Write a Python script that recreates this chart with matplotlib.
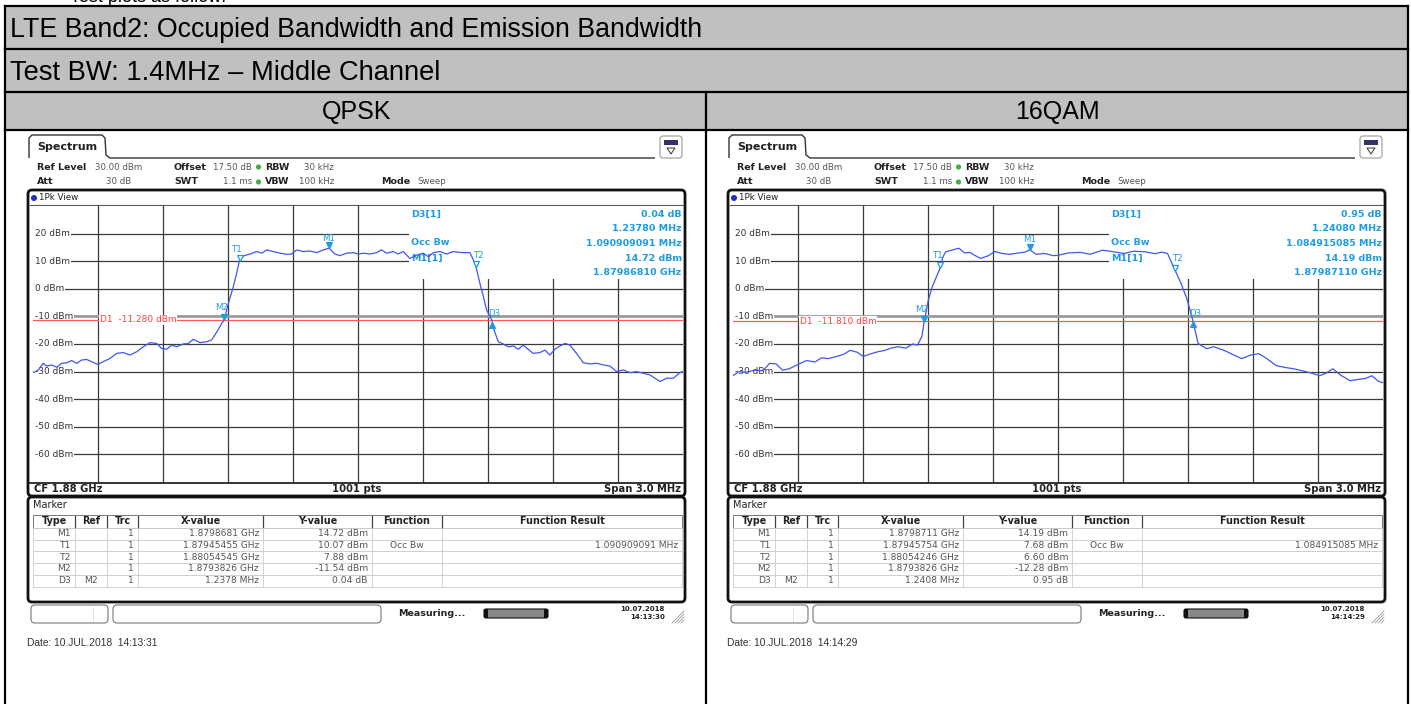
import matplotlib
matplotlib.use('Agg')
import matplotlib.pyplot as plt
from matplotlib.patches import Rectangle, FancyBboxPatch, Circle, Polygon
from matplotlib.transforms import offset_copy, blended_transform_factory

W, H = 1411, 704

# ---- data ----
doc_title = 'LTE Band2: Occupied Bandwidth and Emission Bandwidth'
doc_subtitle = 'Test BW: 1.4MHz \u2013 Middle Channel'
modulations = ['QPSK', '16QAM']

level_ticks_dbm = [20, 10, 0, -10, -20, -30, -40, -50, -60]

# frequency offset from CF 1.88 GHz (MHz), level (dBm)
qpsk_freq_mhz = [-1.500, -1.497, -1.474, -1.451, -1.436, -1.412, -1.389, -1.366, -1.343, -1.320,
                 -1.297, -1.274, -1.251, -1.228, -1.200, -1.174, -1.143, -1.112, -1.082, -1.051,
                 -1.020, -0.989, -0.959, -0.928, -0.905, -0.882, -0.859, -0.836, -0.805, -0.782,
                 -0.759, -0.728, -0.697, -0.674, -0.659, -0.643, -0.628, -0.617, -0.597, -0.574,
                 -0.559, -0.546, -0.528, -0.497, -0.466, -0.443, -0.420, -0.389, -0.358, -0.328,
                 -0.305, -0.282, -0.251, -0.220, -0.190, -0.159, -0.132, -0.105, -0.082, -0.051,
                 -0.020, 0.003, 0.026, 0.057, 0.087, 0.110, 0.134, 0.164, 0.187, 0.210,
                 0.241, 0.272, 0.303, 0.326, 0.349, 0.380, 0.410, 0.441, 0.480, 0.518,
                 0.534, 0.546, 0.564, 0.580, 0.595, 0.620, 0.629, 0.649, 0.672, 0.695,
                 0.718, 0.741, 0.764, 0.787, 0.810, 0.841, 0.864, 0.887, 0.910, 0.934,
                 0.957, 0.980, 1.010, 1.041, 1.072, 1.103, 1.134, 1.164, 1.195, 1.226,
                 1.257, 1.287, 1.318, 1.349, 1.372, 1.395, 1.426, 1.457, 1.487, 1.500]
qpsk_level_dbm = [-30.0, -30.4, -29.4, -27.0, -28.0, -27.6, -28.4, -27.0, -26.8, -26.0,
                  -27.0, -25.8, -25.6, -26.4, -27.4, -26.4, -25.2, -23.4, -23.1, -24.0,
                  -22.8, -21.0, -19.5, -19.8, -21.6, -21.9, -20.4, -21.0, -20.0, -19.8,
                  -18.3, -19.5, -19.2, -18.5, -16.7, -14.7, -12.5, -11.5, -5.3, 0.8,
                  5.6, 10.1, 11.9, 12.6, 13.5, 12.9, 14.1, 13.5, 12.9, 12.5,
                  12.6, 14.1, 13.5, 13.7, 13.1, 14.1, 14.7, 12.6, 12.0, 12.9,
                  13.1, 12.6, 12.9, 12.6, 13.1, 14.1, 12.9, 13.5, 12.6, 13.5,
                  11.0, 12.2, 12.9, 11.6, 13.1, 13.5, 12.6, 13.5, 13.1, 13.1,
                  10.4, 7.9, 2.0, -2.8, -7.7, -11.5, -14.9, -19.2, -20.0, -21.0,
                  -20.7, -21.9, -20.4, -21.9, -23.4, -23.1, -22.2, -24.0, -21.9, -20.7,
                  -19.8, -20.4, -23.4, -26.8, -27.2, -27.0, -27.6, -28.0, -30.0, -29.4,
                  -30.4, -30.0, -30.6, -31.2, -32.4, -33.6, -32.4, -32.4, -30.4, -30.0]

qam16_freq_mhz = [-1.500, -1.470, -1.440, -1.400, -1.360, -1.330, -1.300, -1.270, -1.240, -1.200,
                  -1.160, -1.120, -1.090, -1.060, -1.020, -0.990, -0.958, -0.925, -0.898, -0.860,
                  -0.830, -0.798, -0.770, -0.738, -0.700, -0.670, -0.647, -0.627, -0.617, -0.597,
                  -0.577, -0.542, -0.530, -0.517, -0.490, -0.456, -0.430, -0.406, -0.380, -0.356,
                  -0.320, -0.290, -0.256, -0.220, -0.180, -0.150, -0.129, -0.100, -0.060, -0.020,
                  0.005, 0.050, 0.105, 0.150, 0.207, 0.250, 0.306, 0.350, 0.406, 0.450,
                  0.480, 0.507, 0.542, 0.567, 0.597, 0.623, 0.648, 0.688, 0.720, 0.768,
                  0.800, 0.849, 0.890, 0.928, 0.960, 1.008, 1.050, 1.090, 1.129, 1.170,
                  1.209, 1.240, 1.270, 1.310, 1.350, 1.390, 1.420, 1.450, 1.480, 1.500]
qam16_level_dbm = [-31.5, -30.0, -30.3, -29.5, -29.7, -27.0, -27.2, -29.5, -29.0, -27.5,
                   -26.0, -26.5, -25.0, -25.3, -24.5, -23.8, -22.3, -23.0, -24.5, -23.5,
                   -22.8, -22.3, -21.5, -21.0, -21.5, -20.0, -20.4, -17.3, -12.3, -4.0,
                   1.1, 7.7, 11.5, 13.4, 14.0, 14.7, 13.0, 13.2, 12.0, 11.0,
                   12.0, 13.5, 12.8, 12.5, 13.0, 13.3, 14.2, 12.5, 12.8, 12.0,
                   12.2, 13.0, 13.2, 12.5, 14.0, 13.5, 12.8, 13.6, 13.4, 12.7,
                   13.3, 12.8, 6.6, 2.4, -3.8, -11.3, -19.8, -21.7, -21.0, -22.3,
                   -23.5, -25.3, -24.0, -23.5, -25.0, -27.8, -28.5, -29.0, -29.7, -30.5,
                   -31.5, -30.5, -29.0, -31.5, -33.3, -32.8, -32.5, -31.5, -33.5, -34.0]

marker_names = ['M1', 'T1', 'T2', 'M2', 'D3']
qpsk_marker_freq_mhz = [-0.1319, -0.5455, 0.5455, -0.6174, 0.6204]
qpsk_marker_level_dbm = [14.72, 10.07, 7.88, -11.54, -11.50]
qam16_marker_freq_mhz = [-0.1289, -0.5425, 0.5425, -0.6174, 0.6234]
qam16_marker_level_dbm = [14.19, 7.68, 6.60, -12.28, -11.33]

qpsk_display_line_dbm = -11.28
qam16_display_line_dbm = -11.81

qpsk_info = ['0.04 dB', '1.23780 MHz', '1.090909091 MHz', '14.72 dBm', '1.87986810 GHz']
qam16_info = ['0.95 dB', '1.24080 MHz', '1.084915085 MHz', '14.19 dBm', '1.87987110 GHz']

table_header = ['Type', 'Ref', 'Trc', 'X-value', 'Y-value', 'Function', 'Function Result']
qpsk_table = [['M1', '', '1', '1.8798681 GHz', '14.72 dBm', '', ''],
              ['T1', '', '1', '1.87945455 GHz', '10.07 dBm', 'Occ Bw', '1.090909091 MHz'],
              ['T2', '', '1', '1.88054545 GHz', '7.88 dBm', '', ''],
              ['M2', '', '1', '1.8793826 GHz', '-11.54 dBm', '', ''],
              ['D3', 'M2', '1', '1.2378 MHz', '0.04 dB', '', '']]
qam16_table = [['M1', '', '1', '1.8798711 GHz', '14.19 dBm', '', ''],
               ['T1', '', '1', '1.87945754 GHz', '7.68 dBm', 'Occ Bw', '1.084915085 MHz'],
               ['T2', '', '1', '1.88054246 GHz', '6.60 dBm', '', ''],
               ['M2', '', '1', '1.8793826 GHz', '-12.28 dBm', '', ''],
               ['D3', 'M2', '1', '1.2408 MHz', '0.95 dB', '', '']]

qpsk_clock = ['10.07.2018', '14:13:30']
qam16_clock = ['10.07.2018', '14:14:29']
qpsk_date = 'Date: 10.JUL.2018  14:13:31'
qam16_date = 'Date: 10.JUL.2018  14:14:29'

TRACE = '#4455ee'
MARK = '#1f9be3'
SCREEN_FONT = 'DejaVu Sans'
DOC_FONT = 'Liberation Sans'

fig = plt.figure(figsize=(W / 100, H / 100), dpi=100)
bg = fig.add_axes([0, 0, 1, 1])
bg.set_xlim(0, W)
bg.set_ylim(H, 0)
bg.axis('off')


def txt(x, y, s, size=6, weight='normal', color='#222222', ha='left', va='center', family=SCREEN_FONT, **kw):
    bg.text(x, y, s, fontsize=size, fontweight=weight, color=color, ha=ha, va=va, family=family, **kw)


def rbox(x0, y0, x1, y1, r=3, ec='#222222', lw=1.0, fc='none', z=1):
    bg.add_patch(FancyBboxPatch((x0, y0), x1 - x0, y1 - y0, boxstyle='round,pad=0,rounding_size=%g' % r,
                                ec=ec, fc=fc, lw=lw, zorder=z))


# ---- document table ----
bg.text(70, 2.5, 'Test plots as follow:', fontsize=13, family=DOC_FONT, va='baseline', color='black')
for y0, y1 in [(6, 49), (49, 92), (92, 130)]:
    bg.add_patch(Rectangle((5, y0), 1403, y1 - y0, fc='#c0c0c0', ec='none', zorder=0))
for y in [6, 49, 92, 130]:
    bg.plot([5, 1408], [y, y], color='black', lw=1.6, zorder=2)
bg.plot([5, 5], [6, H], color='black', lw=1.6, zorder=2)
bg.plot([1408, 1408], [6, H], color='black', lw=1.6, zorder=2)
bg.plot([706, 706], [92, H], color='black', lw=1.6, zorder=2)
txt(10, 30, doc_title, size=19.3, family=DOC_FONT, color='black')
txt(10, 73, doc_subtitle, size=19.6, family=DOC_FONT, color='black')
txt(357, 112, modulations[0], size=18, family=DOC_FONT, color='black', ha='center')
txt(1057, 112, modulations[1], size=18, family=DOC_FONT, color='black', ha='center')


def draw_panel(ox, freq, level, mk_f, mk_l, d1, info, rows, clock, date):
    # tab and header
    bg.add_patch(Polygon([(ox + 29, 158), (ox + 29, 138), (ox + 32, 135), (ox + 102, 135), (ox + 105, 138),
                          (ox + 106, 155), (ox + 110, 158), (ox + 655, 158)],
                         closed=False, fill=False, ec='#333333', lw=1.0))
    txt(ox + 37, 147, 'Spectrum', size=8, weight='bold')
    rbox(ox + 660, 136, ox + 682, 158, r=3, ec='#999999', lw=0.8)
    bg.add_patch(Rectangle((ox + 664, 140), 14, 5, fc='#333366', ec='none'))
    bg.add_patch(Polygon([(ox + 667, 148), (ox + 675, 148), (ox + 671, 154)], closed=True, fill=False,
                         ec='#333333', lw=0.7))
    txt(ox + 37, 167, 'Ref Level', size=6.8, weight='bold')
    txt(ox + 95, 167, '30.00 dBm', size=6.2, color='#555555')
    txt(ox + 174, 167, 'Offset', size=6.8, weight='bold')
    txt(ox + 252, 167, '17.50 dB', size=6.2, color='#555555', ha='right')
    txt(ox + 265, 167, 'RBW', size=6.8, weight='bold')
    txt(ox + 334, 167, '30 kHz', size=6.2, color='#555555', ha='right')
    txt(ox + 37, 182, 'Att', size=6.8, weight='bold')
    txt(ox + 131, 182, '30 dB', size=6.2, color='#555555', ha='right')
    txt(ox + 174, 182, 'SWT', size=6.8, weight='bold')
    txt(ox + 252, 182, '1.1 ms', size=6.2, color='#555555', ha='right')
    txt(ox + 265, 182, 'VBW', size=6.8, weight='bold')
    txt(ox + 334, 182, '100 kHz', size=6.2, color='#555555', ha='right')
    txt(ox + 381, 182, 'Mode', size=6.8, weight='bold')
    txt(ox + 417, 182, 'Sweep', size=6.2, color='#555555')
    for y in [167, 182]:
        bg.add_patch(Circle((ox + 258.5, y), 2.6, fc='#3cb043', ec='none'))

    # diagram frame
    rbox(ox + 28, 190, ox + 685, 496, r=4, lw=2.0, ec='#111111')
    bg.plot([ox + 30, ox + 683], [205, 205], color='#555555', lw=0.8)
    bg.add_patch(Circle((ox + 34, 198), 3.0, fc='#1a2fd6', ec='none'))
    txt(ox + 39, 198, '1Pk View', size=6.3)
    bg.plot([ox + 30, ox + 683], [482.5, 482.5], color='#111111', lw=1.2)
    txt(ox + 34, 489, 'CF 1.88 GHz', size=7.2, weight='bold')
    txt(ox + 357, 489, '1001 pts', size=7.2, weight='bold', ha='center')
    txt(ox + 681, 489, 'Span 3.0 MHz', size=7.2, weight='bold', ha='right')

    # spectrum axes
    ax = fig.add_axes([(ox + 32.7) / W, 1 - 482 / H, 650 / W, 276 / H])
    ax.set_xlim(-1.5, 1.5)
    ax.set_ylim(-70, 30)
    ax.set_xticks([])
    ax.set_yticks([])
    for s in ax.spines.values():
        s.set_visible(False)
    for i in range(1, 10):
        ax.axvline(-1.5 + 0.3 * i, color='#3a3a3a', lw=0.9, zorder=1)
    for lv in level_ticks_dbm:
        if lv == -10:
            ax.axhline(lv, xmin=0.03, color='#9a9a9a', lw=2.0, zorder=1)
        else:
            ax.axhline(lv, xmin=0.03, color='#3a3a3a', lw=0.9, zorder=1)
    bt = blended_transform_factory(ax.transAxes, ax.transData)
    for lv in level_ticks_dbm:
        ax.text(0.004, lv, '%d dBm' % lv, transform=bt, fontsize=6.5, color='#333333', va='center',
                family=SCREEN_FONT, zorder=2,
                bbox=dict(fc='white', ec='none', pad=0.6))
    ax.add_patch(Rectangle((0.237, 3.55), 1.3, 27, fc='white', ec='none', zorder=2))
    ax.axhline(d1, color='#ff5a5a', lw=0.9, zorder=3)
    ax.text(-1.19, d1, 'D1  %.3f dBm' % d1, fontsize=6.5, color='#ff4040', va='center', family=SCREEN_FONT,
            zorder=3, bbox=dict(fc='white', ec='none', pad=0.3))
    ax.plot(freq, level, color=TRACE, lw=0.9, zorder=4)

    # markers: (triangle style, filled, triangle dy px, label dx, label dy px)
    styles = [('v', True, 3, 0, 10), ('v', False, 3, -2, 12), ('v', False, 3, 3, 12),
              ('v', True, 4, -2, 13), ('^', True, -4, 2, 7)]
    for name, f, l, (m, filled, dy, ldx, ldy) in zip(marker_names, mk_f, mk_l, styles):
        tr = offset_copy(ax.transData, fig=fig, x=0, y=dy, units='dots')
        ax.plot([f], [l], marker=m, ms=4.5, mec=MARK, mfc=MARK if filled else 'white', mew=0.9,
                transform=tr, zorder=5, clip_on=False)
        ax.annotate(name, (f, l), xytext=(ldx, ldy), textcoords='offset pixels', fontsize=6.2,
                    color=MARK, ha='center', va='center', family=SCREEN_FONT, zorder=5)

    # marker info box
    x_left = (411 - 32.7) / 650
    for s, y, z in [('D3[1]', 27.0, 5), ('Occ Bw', 16.6, 5), ('M1[1]', 11.1, 3)]:
        ax.text(x_left, y, s, transform=bt, fontsize=6.8, weight='bold', color=MARK,
                family=SCREEN_FONT, va='center', zorder=z)
    for k, s in enumerate(info):
        ax.text(0.9985, 27.0 - 5.3 * k, s, transform=bt, fontsize=6.8, weight='bold', color=MARK,
                family=SCREEN_FONT, va='center', ha='right', zorder=5)

    # marker table
    rbox(ox + 28, 497, ox + 685, 602, r=4, lw=2.0, ec='#111111')
    txt(ox + 33, 505, 'Marker', size=7)
    cols = [33, 75, 107, 138, 263, 372, 442, 682]
    cols = [ox + c for c in cols]
    top, hh, rh = 515, 13, 11.7
    bg.add_patch(Rectangle((cols[0], top), cols[-1] - cols[0], hh, fc='white', ec='#777777', lw=0.7))
    for c in cols[1:-1]:
        bg.plot([c, c], [top + 1, top + hh - 1], color='#444444', lw=0.9)
    for j, h in enumerate(table_header):
        txt((cols[j] + cols[j + 1]) / 2, top + hh / 2, h, size=6.9, weight='bold', ha='center')
    y0 = top + hh
    for i, row in enumerate(rows):
        ya = y0 + i * rh
        bg.add_patch(Rectangle((cols[0], ya), cols[-1] - cols[0], rh, fc='white', ec='#cccccc', lw=0.6))
        for c in cols[1:-1]:
            bg.plot([c, c], [ya, ya + rh], color='#cccccc', lw=0.6)
        yc = ya + rh / 2
        for j, v in enumerate(row):
            if not v:
                continue
            if j in (1, 5):
                txt((cols[j] + cols[j + 1]) / 2, yc, v, size=6.6, color='#555555', ha='center')
            else:
                txt(cols[j + 1] - 4, yc, v, size=6.6, color='#555555', ha='right')

    # status bar
    rbox(ox + 31, 605, ox + 108, 623, r=4, ec='#777777', lw=0.8)
    bg.plot([ox + 93, ox + 93], [607, 621], color='#dddddd', lw=0.6)
    rbox(ox + 113, 605, ox + 381, 623, r=4, ec='#777777', lw=0.8)
    txt(ox + 398, 613, 'Measuring...', size=6.8, weight='bold')
    bg.add_patch(FancyBboxPatch((ox + 484, 609), 64, 9, boxstyle='round,pad=0,rounding_size=2',
                                fc='#888888', ec='#111111', lw=0.8))
    bg.add_patch(Rectangle((ox + 484, 609), 4, 9, fc='#111111', ec='none'))
    bg.add_patch(Rectangle((ox + 544, 609), 4, 9, fc='#111111', ec='none'))
    txt(ox + 665, 609, clock[0], size=5, weight='bold', ha='right')
    txt(ox + 665, 617, clock[1], size=5, weight='bold', ha='right')
    for k in range(4):
        bg.plot([ox + 672 + 3 * k, ox + 684], [623, 611 + 3 * k], color='#888888', lw=0.5)

    txt(ox + 27, 643, date, size=7.4, family=DOC_FONT, color='#333333')


draw_panel(0, qpsk_freq_mhz, qpsk_level_dbm, qpsk_marker_freq_mhz, qpsk_marker_level_dbm,
           qpsk_display_line_dbm, qpsk_info, qpsk_table, qpsk_clock, qpsk_date)
draw_panel(700, qam16_freq_mhz, qam16_level_dbm, qam16_marker_freq_mhz, qam16_marker_level_dbm,
           qam16_display_line_dbm, qam16_info, qam16_table, qam16_clock, qam16_date)

fig.savefig('out.png', dpi=100)
